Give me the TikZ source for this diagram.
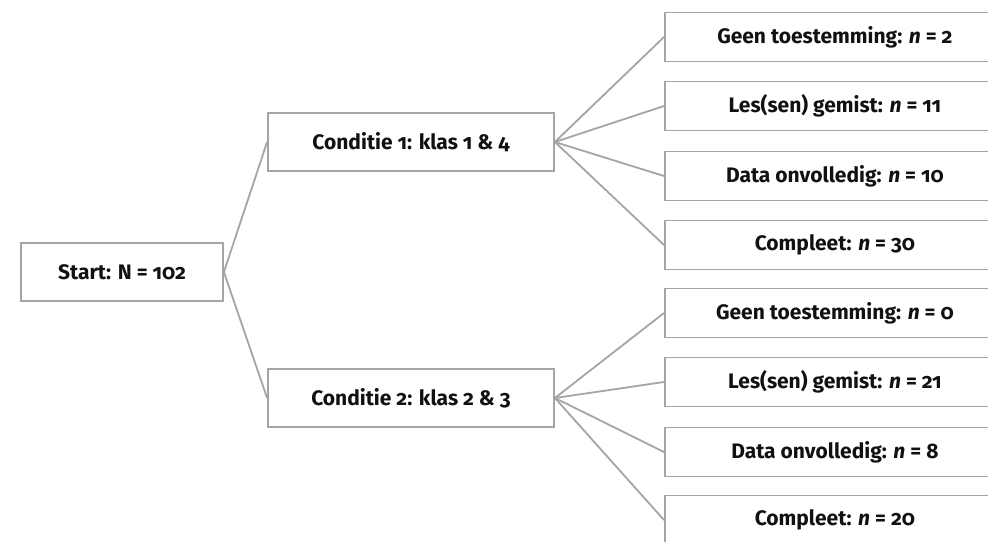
\documentclass[tikz,border=0pt]{standalone}
\usepackage{fontspec}
\setmainfont{Fira Sans}[Numbers=OldStyle]
\definecolor{boxgray}{HTML}{A5A5A5}
\definecolor{txt}{HTML}{111111}
\tikzset{
  box/.style={draw=boxgray, line width=1.8pt, fill=white, text=txt, font=\fontsize{21}{25}\selectfont\bfseries, inner sep=0pt, align=center},
  leftbox/.style={box, minimum height=58pt},
  rbox/.style={box, minimum width=340pt, minimum height=49pt, anchor=west},
  conn/.style={draw=boxgray, line width=1.8pt}
}
\begin{document}
\begin{tikzpicture}[x=1pt,y=1pt]
\useasboundingbox (0,0) rectangle (988,541);
\clip (0,0) rectangle (988,541);
\fill[white] (0,0) rectangle (988,541);
\node[leftbox, minimum width=202pt] (start) at (122,269) {Start: N = 102};
\node[leftbox, minimum width=286pt] (c1) at (411,399) {Conditie 1: klas 1 \& 4};
\node[leftbox, minimum width=286pt] (c2) at (411,143) {Conditie 2: klas 2 \& 3};
\node[rbox] (a1) at (664,504) {Geen toestemming: \textit{n} = 2};
\node[rbox] (a2) at (664,435) {Les(sen) gemist: \textit{n} = 11};
\node[rbox] (a3) at (664,365) {Data onvolledig: \textit{n} = 10};
\node[rbox] (a4) at (664,296) {Compleet: \textit{n} = 30};
\node[rbox] (b1) at (664,228) {Geen toestemming: \textit{n} = 0};
\node[rbox] (b2) at (664,159) {Les(sen) gemist: \textit{n} = 21};
\node[rbox] (b3) at (664,89) {Data onvolledig: \textit{n} = 8};
\node[rbox] (b4) at (664,21) {Compleet: \textit{n} = 20};
\draw[conn] (start.east) -- (c1.west);
\draw[conn] (start.east) -- (c2.west);
\foreach \t in {a1,a2,a3,a4} \draw[conn] (c1.east) -- (\t.west);
\foreach \t in {b1,b2,b3,b4} \draw[conn] (c2.east) -- (\t.west);
\end{tikzpicture}
\end{document}
